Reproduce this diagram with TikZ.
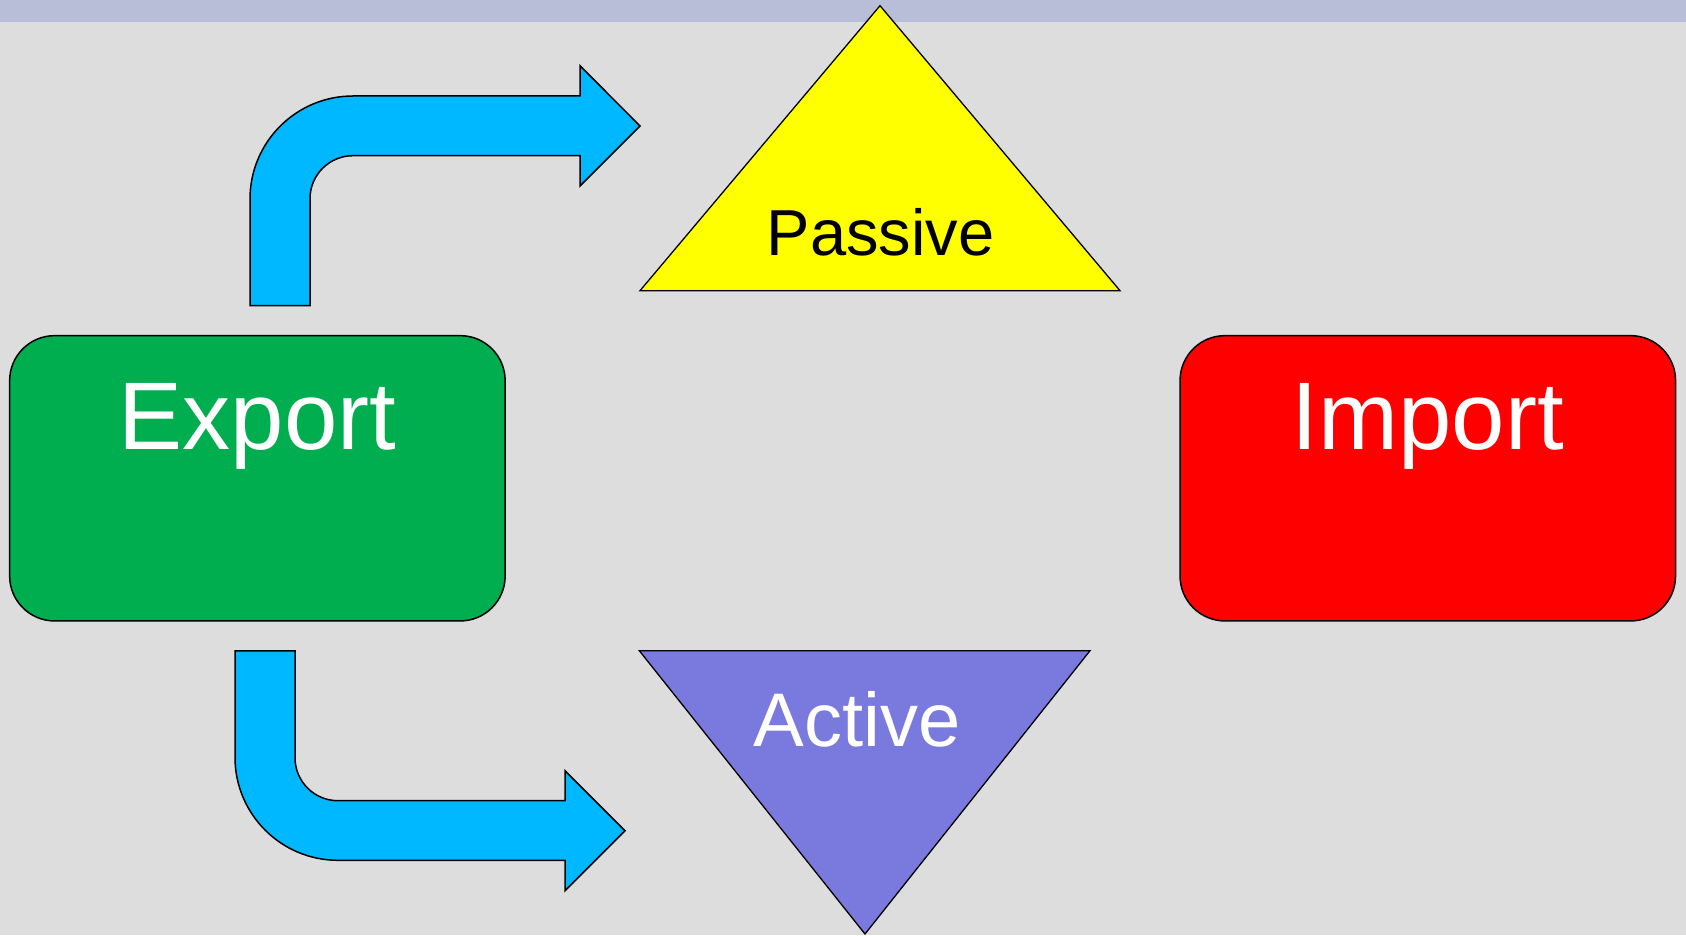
\documentclass[tikz,border=0pt]{standalone}
\usepackage{fontspec}
\setmainfont{Liberation Sans}

\definecolor{bggray}{HTML}{DDDDDD}
\definecolor{bandblue}{HTML}{B8BED8}
\definecolor{exportgreen}{HTML}{00AE50}
\definecolor{importred}{HTML}{FF0000}
\definecolor{passiveyellow}{HTML}{FFFF00}
\definecolor{activeblue}{HTML}{7A7ADE}
\definecolor{arrowblue}{HTML}{00B8FF}

\begin{document}
\begin{tikzpicture}[x=1pt, y=1pt]
        \tikzstyle{box} = [rectangle, rounded corners=45pt, draw=black, line width=1.5pt, minimum width=495.5pt, inner sep=0pt, text height=114.3pt, text depth=171pt, text=white, font=\fontsize{96}{96}\selectfont]
        \tikzstyle{tri} = [draw=black, line width=1.3pt]
        \tikzstyle{bentarrow} = [draw=black, line width=1.5pt, fill=arrowblue]
        \useasboundingbox (0,0) rectangle (1686,935);
        \fill[bggray] (0,0) rectangle (1686,935);
        \fill[bandblue] (0,913) rectangle (1686,935);
        \node[box, fill=exportgreen] (export) at (257.4,456.7) {Export};
        \node[box, fill=importred] (import) at (1427.8,456.7) {Import};
        \draw[tri, fill=passiveyellow] (640,644.3) -- (880,929.3) -- (1120,644.3) -- cycle;
        \node[anchor=base, inner sep=0pt, font=\fontsize{65}{65}\selectfont] (passive) at (880.5,679.3) {Passive};
        \draw[tri, fill=activeblue] (639.3,284.3) -- (1090,284.3) -- (865,1) -- cycle;
        \node[anchor=base, inner sep=0pt, text=white, font=\fontsize{76}{76}\selectfont] (active) at (857,189) {Active};
        \draw[bentarrow] (250,629.3) -- (250,736) arc[start angle=180, end angle=90, radius=103] -- (580,839) -- (580,869.3) -- (640,809) -- (580,749) -- (580,779.3) -- (353,779.3) arc[start angle=90, end angle=180, radius=43] -- (310,629.3) -- cycle;
        \draw[bentarrow] (235,284) -- (235,177.7) arc[start angle=180, end angle=270, radius=103] -- (565,74.7) -- (565,44.3) -- (625,104.3) -- (565,164.3) -- (565,134.3) -- (338,134.3) arc[start angle=270, end angle=180, radius=43] -- (295,284) -- cycle;
\end{tikzpicture}
\end{document}
